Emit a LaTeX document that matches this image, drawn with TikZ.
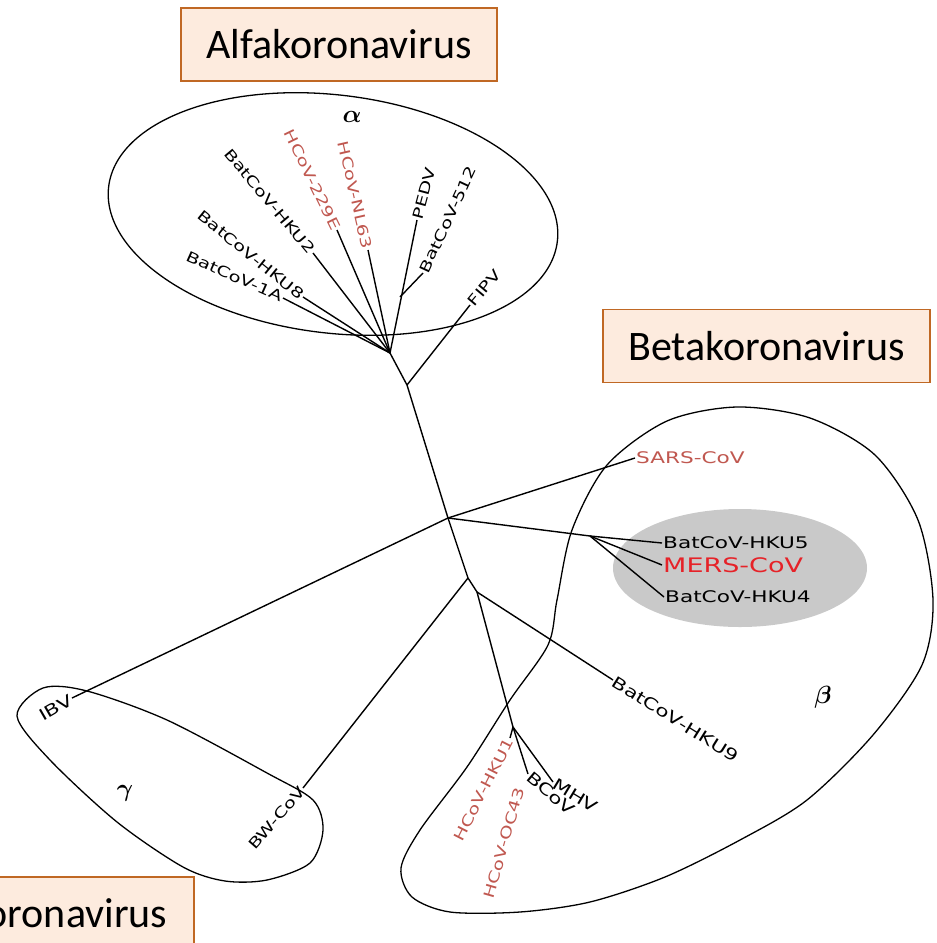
\documentclass[tikz,border=0pt]{standalone}
\usepackage{fontspec}
\usepackage{amsmath}
\newfontfamily\treefont[FakeStretch=1.35]{DejaVu Sans}
\newfontfamily\boxfont{Carlito}
\definecolor{humred}{RGB}{192,88,80}
\definecolor{merscol}{RGB}{230,34,40}
\definecolor{mersgray}{RGB}{201,201,201}
\definecolor{boxfill}{RGB}{253,235,222}
\definecolor{boxline}{RGB}{192,104,36}

\begin{document}
\begin{tikzpicture}[x=1pt,y=-1pt,
    branch/.style={line width=1.4pt},
    clade/.style={line width=1.3pt},
    leafa/.style={font=\treefont\fontsize{14.5}{16}\selectfont, inner sep=1pt},
    leafb/.style={font=\treefont\fontsize{16}{18}\selectfont, inner sep=1pt},
    hum/.style={text=humred},
    greek/.style={font=\fontsize{24}{26}\selectfont},
    kbox/.style={draw=boxline, fill=boxfill, line width=1.6pt,
      font=\boxfont\fontsize{42}{48}\selectfont, minimum height=73pt,
      inner xsep=23pt, align=center}]
    \useasboundingbox (0,0) rectangle (937,943);

    % clades
    \fill[mersgray] (740,568) ellipse [x radius=127, y radius=59];
    \draw[clade, rotate around={-7:(333,214)}] (333,214) ellipse [x radius=226, y radius=119];
    \draw[clade] plot[smooth cycle] coordinates {(557,600) (572,530) (607,465)
      (667,421) (737,407) (810,418) (875,455) (918,520) (933,600) (922,665)
      (873,735) (807,800) (740,840) (665,877) (590,902) (520,912) (450,912)
      (412,897) (401,868) (420,830) (467,767) (510,700) (548,645)};
    \draw[clade] plot[smooth cycle] coordinates {(17,716) (43,688) (87,691)
      (167,720) (267,773) (313,800) (323,830) (310,863) (267,880) (225,881)
      (183,867) (117,822) (50,760)};

    \node[greek] (alpha) at (352,117) {$\boldsymbol{\alpha}$};
    \node[greek] (beta) at (823,697) {$\boldsymbol{\beta}$};
    \node[greek] (gamma) at (125,793) {$\boldsymbol{\gamma}$};

    % inner points of the tree
    \coordinate (A0) at (390,353);
    \coordinate (P0) at (400,297);
    \coordinate (F0) at (407,385);
    \coordinate (S0) at (448,518);
    \coordinate (M0) at (590,536);
    \coordinate (W0) at (468,578);
    \coordinate (K0) at (477,592);
    \coordinate (C0) at (513,727);

    % leaves
    \node[leafa, rotate=-24, anchor=east] (b1a) at (283,298) {BatCoV-1A};
    \node[leafa, rotate=-39, anchor=east] (hku8) at (303,297) {BatCoV-HKU8};
    \node[leafa, rotate=-50, anchor=east] (hku2) at (313,253) {BatCoV-HKU2};
    \node[leafa, hum, rotate=-64, anchor=east] (h229e) at (337,230) {HCoV-229E};
    \node[leafa, hum, rotate=-77, anchor=east] (nl63) at (368,250) {HCoV-NL63};
    \node[leafa, rotate=75, anchor=west] (pedv) at (417,220) {PEDV};
    \node[leafa, rotate=65, anchor=west] (b512) at (423,273) {BatCoV-512};
    \node[leafa, rotate=50, anchor=west] (fipv) at (470,305) {FIPV};

    \node[leafb, hum, anchor=west] (sars) at (635,458) {SARS-CoV};
    \node[leafb, anchor=west] (hku5) at (662,543) {BatCoV-HKU5};
    \node[leafb, text=merscol, anchor=west, font=\treefont\fontsize{20}{22}\selectfont] (mers) at (662,565) {MERS-CoV};
    \node[leafb, anchor=west] (hku4) at (664,597) {BatCoV-HKU4};
    \node[leafb, rotate=-32, anchor=west] (hku9) at (613,680) {BatCoV-HKU9};
    \node[leafb, rotate=-31, anchor=west] (mhv) at (553,782) {MHV};
    \node[leafb, rotate=-40, anchor=west] (bcov) at (528,774) {BCoV};
    \node[leafa, hum, rotate=63, anchor=east] (hku1) at (510,738) {HCoV-HKU1};
    \node[leafa, hum, rotate=74, anchor=east] (oc43) at (520,787) {HCoV-OC43};

    \node[leafb, rotate=30, anchor=east] (ibv) at (72,698) {IBV};
    \node[leafa, rotate=49, anchor=east] (bwcov) at (303,788) {BW-CoV};

    % branches
    \draw[branch] (A0) -- (F0) -- (S0) -- (W0) -- (K0) -- (C0);
    \draw[branch] (A0) -- (b1a.east);
    \draw[branch] (A0) -- (hku8.east);
    \draw[branch] (A0) -- (hku2.east);
    \draw[branch] (A0) -- (h229e.east);
    \draw[branch] (A0) -- (nl63.east);
    \draw[branch] (A0) -- (pedv.west);
    \draw[branch] (P0) -- (b512.west);
    \draw[branch] (F0) -- (fipv.west);
    \draw[branch] (ibv.east) -- (S0) -- (sars.west);
    \draw[branch] (S0) -- (M0);
    \draw[branch] (M0) -- (hku5.west);
    \draw[branch] (M0) -- (mers.west);
    \draw[branch] (M0) -- (hku4.west);
    \draw[branch] (W0) -- (bwcov.east);
    \draw[branch] (K0) -- (hku9.west);
    \draw[branch] (C0) -- (mhv.west);
    \draw[branch] (C0) -- (bcov.west);
    \draw[branch] (C0) -- (hku1.east);

    % boxes
    \node[kbox, text width=270pt] (alfa) at (339,44.5) {Alfakoronavirus};
    \node[kbox, text width=281pt] (betak) at (766.5,346) {Betakoronavirus};
    \node[kbox, text width=260pt, align=right, inner xsep=27pt, anchor=north east] (gammak) at (195,876) {oronavirus};
\end{tikzpicture}
\end{document}
